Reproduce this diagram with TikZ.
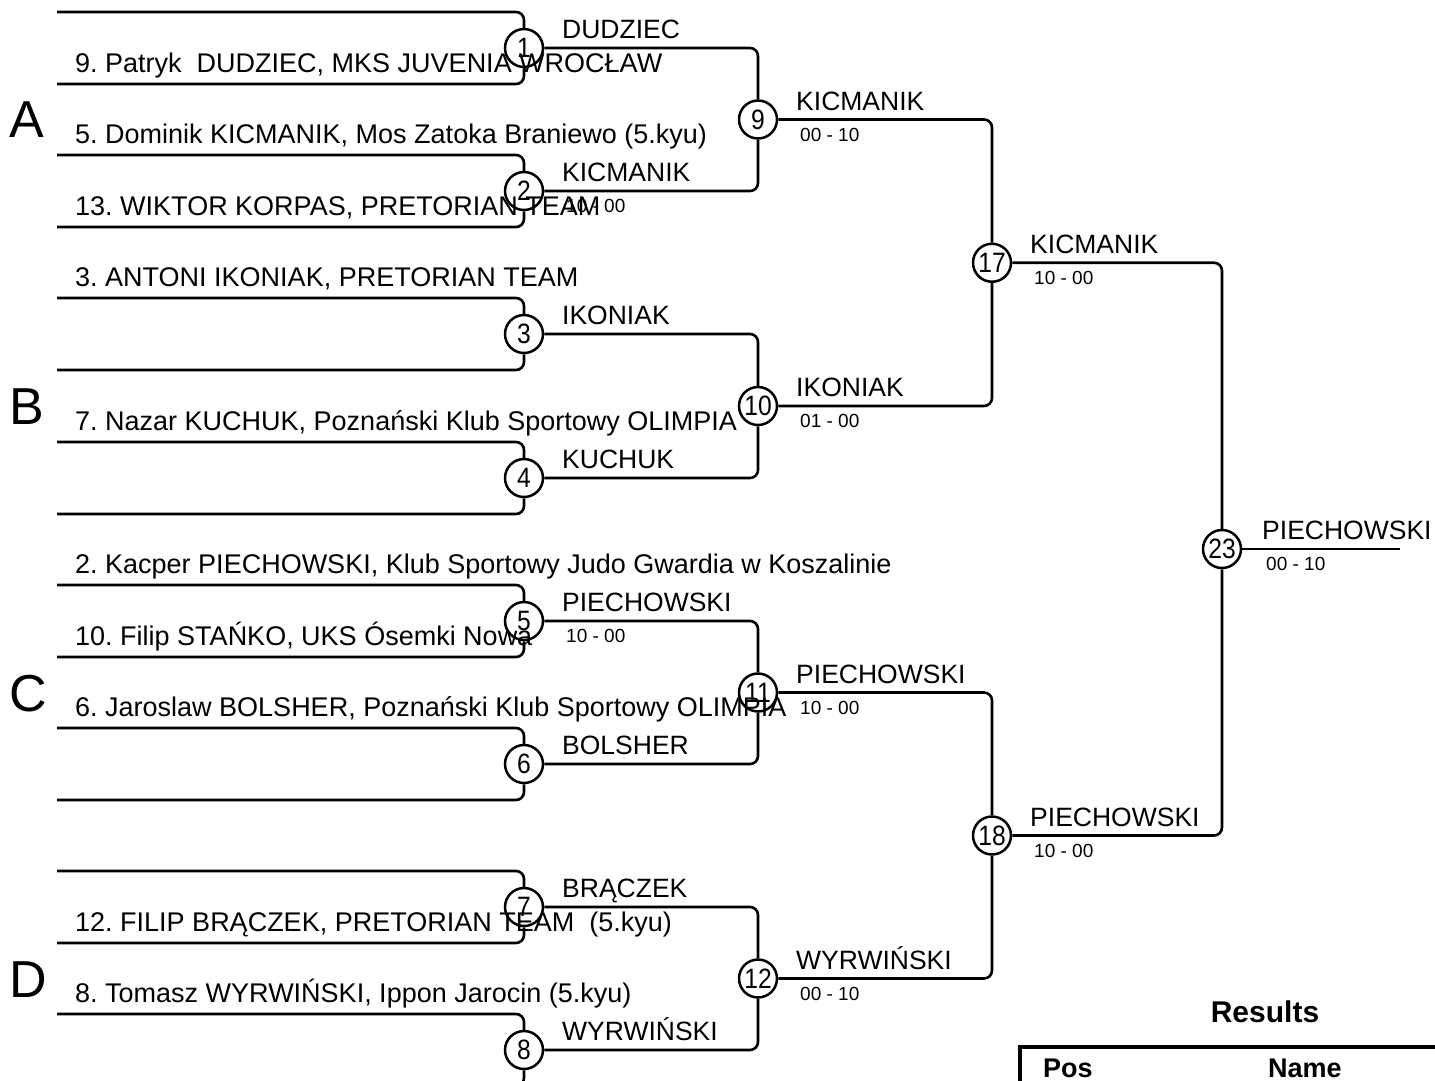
\documentclass[tikz,border=0pt]{standalone}
\usepackage{fontspec}
\setmainfont{Liberation Sans}
\newfontfamily\numfont[FakeStretch=0.88]{Liberation Sans}
\frenchspacing
\begin{document}
\begin{tikzpicture}[x=1pt,y=-1pt,
  conn/.style={line width=2.6pt, rounded corners=8pt},
  mnum/.style={circle, draw, line width=2.5pt, minimum size=38pt, inner sep=0pt, font=\numfont\fontsize{28}{28}\selectfont},
  entrant/.style={anchor=base west, inner sep=0pt, font=\fontsize{27}{27}\selectfont},
  winner/.style={anchor=base west, inner sep=0pt, font=\fontsize{26.5}{26.5}\selectfont},
  score/.style={anchor=base west, inner sep=0pt, font=\fontsize{19}{19}\selectfont},
  grp/.style={anchor=base west, inner sep=0pt, font=\fontsize{52}{52}\selectfont},
  hdr/.style={inner sep=0pt, font=\fontsize{27}{27}\selectfont\bfseries},
]
\useasboundingbox (0,0) rectangle (1435,1080);

% match circles
\node[mnum] (m1) at (524,48) {1};
\node[mnum] (m2) at (524,191) {2};
\node[mnum] (m3) at (524,334) {3};
\node[mnum] (m4) at (524,478) {4};
\node[mnum] (m5) at (524,621) {5};
\node[mnum] (m6) at (524,764) {6};
\node[mnum] (m7) at (524,907) {7};
\node[mnum] (m8) at (524,1050) {8};
\node[mnum] (m9) at (758,119.5) {9};
\node[mnum] (m10) at (758,406) {10};
\node[mnum] (m11) at (758,692.5) {11};
\node[mnum] (m12) at (758,978.5) {12};
\node[mnum] (m17) at (992,262.75) {17};
\node[mnum] (m18) at (992,835.5) {18};
\node[mnum] (m23) at (1222,549) {23};

% entry line ends
\coordinate (e1) at (57,12);   \coordinate (e2) at (57,84);
\coordinate (e3) at (57,155);  \coordinate (e4) at (57,227);
\coordinate (e5) at (57,298);  \coordinate (e6) at (57,370);
\coordinate (e7) at (57,442);  \coordinate (e8) at (57,514);
\coordinate (e9) at (57,585);  \coordinate (e10) at (57,657);
\coordinate (e11) at (57,728); \coordinate (e12) at (57,800);
\coordinate (e13) at (57,871); \coordinate (e14) at (57,943);
\coordinate (e15) at (57,1014);\coordinate (e16) at (57,1086);
\coordinate (fin) at (1400,549);

% first round lines
\foreach \m/\a/\b in {1/1/2,2/3/4,3/5/6,4/7/8,5/9/10,6/11/12,7/13/14,8/15/16}{
  \draw[conn] (e\a) -| (m\m.north);
  \draw[conn] (e\b) -| (m\m.south);
}
% later rounds
\foreach \a/\b/\w in {1/2/9,3/4/10,5/6/11,7/8/12,9/10/17,11/12/18,17/18/23}{
  \draw[conn] (m\a.east) -| (m\w.north);
  \draw[conn] (m\b.east) -| (m\w.south);
}
\draw[conn] (m23.east) -- (fin);

% entrants
\node[entrant] (n2) at (75,72) {9. Patryk\ \ DUDZIEC, MKS JUVENIA WROCŁAW};
\node[entrant] (n3) at (75,143) {5. Dominik KICMANIK, Mos Zatoka Braniewo (5.kyu)};
\node[entrant] (n4) at (75,215) {13. WIKTOR KORPAS, PRETORIAN TEAM};
\node[entrant] (n5) at (75,286) {3. ANTONI IKONIAK, PRETORIAN TEAM};
\node[entrant] (n7) at (75,430) {7. Nazar KUCHUK, Poznański Klub Sportowy OLIMPIA};
\node[entrant] (n9) at (75,573) {2. Kacper PIECHOWSKI, Klub Sportowy Judo Gwardia w Koszalinie};
\node[entrant] (n10) at (75,645) {10. Filip STAŃKO, UKS Ósemki Nowa};
\node[entrant] (n11) at (75,716) {6. Jaroslaw BOLSHER, Poznański Klub Sportowy OLIMPIA};
\node[entrant] (n14) at (75,931) {12. FILIP BRĄCZEK, PRETORIAN TEAM\ \ (5.kyu)};
\node[entrant] (n15) at (75,1002) {8. Tomasz WYRWIŃSKI, Ippon Jarocin (5.kyu)};

% winners and scores
\node[winner] (w1) at (562,38) {DUDZIEC};
\node[winner] (w2) at (562,181) {KICMANIK};
\node[score] (s2) at (566,212) {10 - 00};
\node[winner] (w3) at (562,324) {IKONIAK};
\node[winner] (w4) at (562,468) {KUCHUK};
\node[winner] (w5) at (562,611) {PIECHOWSKI};
\node[score] (s5) at (566,642) {10 - 00};
\node[winner] (w6) at (562,754) {BOLSHER};
\node[winner] (w7) at (562,897) {BRĄCZEK};
\node[winner] (w8) at (562,1040) {WYRWIŃSKI};
\node[winner] (w9) at (796,110) {KICMANIK};
\node[score] (s9) at (800,141) {00 - 10};
\node[winner] (w10) at (796,396) {IKONIAK};
\node[score] (s10) at (800,427) {01 - 00};
\node[winner] (w11) at (796,683) {PIECHOWSKI};
\node[score] (s11) at (800,714) {10 - 00};
\node[winner] (w12) at (796,969) {WYRWIŃSKI};
\node[score] (s12) at (800,1000) {00 - 10};
\node[winner] (w17) at (1030,253) {KICMANIK};
\node[score] (s17) at (1034,284) {10 - 00};
\node[winner] (w18) at (1030,826) {PIECHOWSKI};
\node[score] (s18) at (1034,857) {10 - 00};
\node[winner] (w23) at (1262,539) {PIECHOWSKI};
\node[score] (s23) at (1266,570) {00 - 10};

% group letters
\node[grp] (gA) at (9,137.5) {A};
\node[grp] (gB) at (9,424) {B};
\node[grp] (gC) at (9,711) {C};
\node[grp] (gD) at (9,997) {D};

% results
\node[hdr, anchor=base, font=\fontsize{30}{30}\selectfont\bfseries] (res) at (1265,1022) {Results};
\draw[line width=4.5pt] (1020,1082) -- (1020,1047) -- (1437,1047);
\node[hdr, anchor=base west] (pos) at (1043,1077) {Pos};
\node[hdr, anchor=base west] (nam) at (1268,1077) {Name};
\end{tikzpicture}
\end{document}
